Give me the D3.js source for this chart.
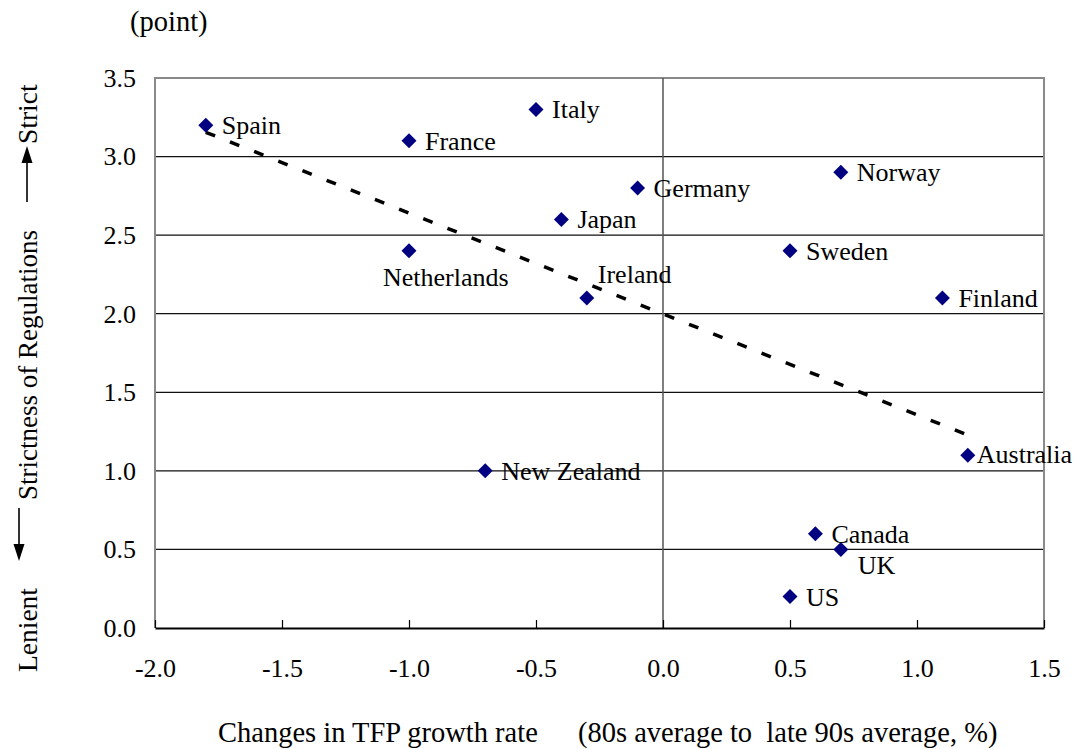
<!DOCTYPE html>
<html>
<head>
<meta charset="utf-8">
<script src="https://cdn.jsdelivr.net/npm/d3@7"></script>
<style>
  body { margin: 0; background: #fff; }
  svg text { font-family: "Liberation Serif", "Times New Roman", serif; fill: #000; }
</style>
</head>
<body>
<svg id="chart" width="1075" height="749"></svg>
<script>
// Country data: change in TFP growth rate (%) vs. strictness of regulations (points)
const countries  = ["Spain", "France", "Italy", "Germany", "Japan", "Netherlands", "Ireland",
                    "Norway", "Sweden", "Finland", "Australia", "New Zealand", "Canada", "UK", "US"];
const tfpChange  = [-1.8, -1.0, -0.5, -0.1, -0.4, -1.0, -0.3, 0.7, 0.5, 1.1, 1.2, -0.7, 0.6, 0.7, 0.5];
const strictness = [ 3.2,  3.1,  3.3,  2.8,  2.6,  2.4,  2.1, 2.9, 2.4, 2.1, 1.1,  1.0, 0.6, 0.5, 0.2];

const xTicks = [-2.0, -1.5, -1.0, -0.5, 0.0, 0.5, 1.0, 1.5];
const yTicks = [0.0, 0.5, 1.0, 1.5, 2.0, 2.5, 3.0, 3.5];

// Label placement relative to each marker (text starts right of the marker by default)
const labelDefault = { dx: 16, dy: 9 };
const labelOverride = {
  "Australia":   { dx: 9,   dy: 8 },
  "UK":          { dx: 17,  dy: 25 },
  "Ireland":     { dx: 11,  dy: -15 },
  "Netherlands": { dx: -26, dy: 35 }
};

const svg = d3.select("#chart");
const plot = { left: 155, right: 1044, top: 78, bottom: 628 };
const FONT = 26;        // tick and point labels
const TITLE_FONT = 28.5; // axis titles and unit

const fmt = d => d.toFixed(1);

const x = d3.scaleLinear().domain([-2, 1.5]).range([plot.left, plot.right]);
const y = d3.scaleLinear().domain([0, 3.5]).range([plot.bottom, plot.top]);

// Horizontal gridlines
svg.append("g")
  .selectAll("line")
  .data(yTicks.filter(v => v > 0 && v < 3.5))
  .join("line")
  .attr("x1", plot.left).attr("x2", plot.right)
  .attr("y1", d => y(d)).attr("y2", d => y(d))
  .attr("stroke", "#111").attr("stroke-width", 1.2);

// Plot frame (left, top, right)
svg.append("path")
  .attr("d", `M${plot.left},${plot.bottom}V${plot.top}H${plot.right}V${plot.bottom}`)
  .attr("fill", "none").attr("stroke", "#8a8a8a").attr("stroke-width", 2);

// Vertical line at zero
svg.append("line")
  .attr("x1", x(0)).attr("x2", x(0))
  .attr("y1", plot.top).attr("y2", plot.bottom)
  .attr("stroke", "#555").attr("stroke-width", 1.5);

// Bottom axis
const xAxis = d3.axisBottom(x)
  .tickValues(xTicks)
  .tickFormat(fmt)
  .tickSizeInner(-8).tickSizeOuter(0)
  .tickPadding(31);
const gx = svg.append("g")
  .attr("transform", `translate(0,${plot.bottom})`)
  .call(xAxis);
gx.select(".domain").attr("stroke", "#000").attr("stroke-width", 2);
gx.selectAll(".tick line").attr("stroke", "#000").attr("stroke-width", 1.2);
gx.selectAll(".tick text").attr("font-size", FONT).attr("font-family", null);

// Left axis (labels only; the frame supplies the line)
const yAxis = d3.axisLeft(y)
  .tickValues(yTicks)
  .tickFormat(fmt)
  .tickSize(0)
  .tickPadding(19);
const gy = svg.append("g")
  .attr("transform", `translate(${plot.left},0)`)
  .call(yAxis);
gy.select(".domain").remove();
gy.selectAll(".tick text").attr("font-size", FONT).attr("font-family", null);

// Least-squares trend line across the range of the data
const n = tfpChange.length;
const mx = d3.mean(tfpChange), my = d3.mean(strictness);
let sxy = 0, sxx = 0;
for (let i = 0; i < n; i++) {
  sxy += (tfpChange[i] - mx) * (strictness[i] - my);
  sxx += (tfpChange[i] - mx) ** 2;
}
const slope = sxy / sxx, intercept = my - slope * mx;
const [xmin, xmax] = d3.extent(tfpChange);
const trend = [xmin, xmax].map(v => [v, intercept + slope * v]);
svg.append("path")
  .datum(trend)
  .attr("d", d3.line().x(d => x(d[0])).y(d => y(d[1])))
  .attr("fill", "none")
  .attr("stroke", "#000")
  .attr("stroke-width", 3.5)
  .attr("stroke-dasharray", "10 16");

// Markers
const points = countries.map((c, i) => ({ name: c, x: tfpChange[i], y: strictness[i] }));
svg.append("g")
  .selectAll("path")
  .data(points)
  .join("path")
  .attr("d", d3.symbol(d3.symbolSquare, 112))
  .attr("transform", d => `translate(${x(d.x)},${y(d.y)}) rotate(45)`)
  .attr("fill", "#000080");

// Country labels
svg.append("g")
  .selectAll("text")
  .data(points)
  .join("text")
  .attr("x", d => x(d.x) + (labelOverride[d.name] || labelDefault).dx)
  .attr("y", d => y(d.y) + (labelOverride[d.name] || labelDefault).dy)
  .attr("font-size", FONT)
  .text(d => d.name);

// Unit label
svg.append("text")
  .attr("x", 130).attr("y", 31)
  .attr("font-size", TITLE_FONT)
  .text("(point)");

// X axis title
svg.append("text")
  .attr("x", 218).attr("y", 742)
  .attr("font-size", TITLE_FONT)
  .text("Changes in TFP growth rate");
svg.append("text")
  .attr("x", 578).attr("y", 742)
  .attr("font-size", TITLE_FONT)
  .attr("xml:space", "preserve")
  .style("white-space", "pre")
  .text("(80s average to  late 90s average, %)");

// Y axis title with direction arrows
const yt = svg.append("g").attr("transform", "translate(37,0) rotate(-90)");
yt.append("text").attr("x", -672).attr("y", 0).attr("font-size", 27.5).text("Lenient");
yt.append("text").attr("x", -500).attr("y", 0).attr("font-size", 27).text("Strictness of Regulations");
yt.append("text").attr("x", -144).attr("y", 0).attr("font-size", 27.5).text("Strict");

const arrows = [
  { x: 19, from: 508, to: 561 },   // down: lenient
  { x: 27, from: 202, to: 146 }    // up: strict
];
arrows.forEach(a => {
  const dir = Math.sign(a.to - a.from);
  svg.append("line")
    .attr("x1", a.x).attr("x2", a.x)
    .attr("y1", a.from).attr("y2", a.to - dir * 12)
    .attr("stroke", "#000").attr("stroke-width", 1.6);
  svg.append("path")
    .attr("d", `M${a.x},${a.to}L${a.x - 5.5},${a.to - dir * 17}L${a.x + 5.5},${a.to - dir * 17}Z`)
    .attr("fill", "#000");
});
</script>
</body>
</html>
